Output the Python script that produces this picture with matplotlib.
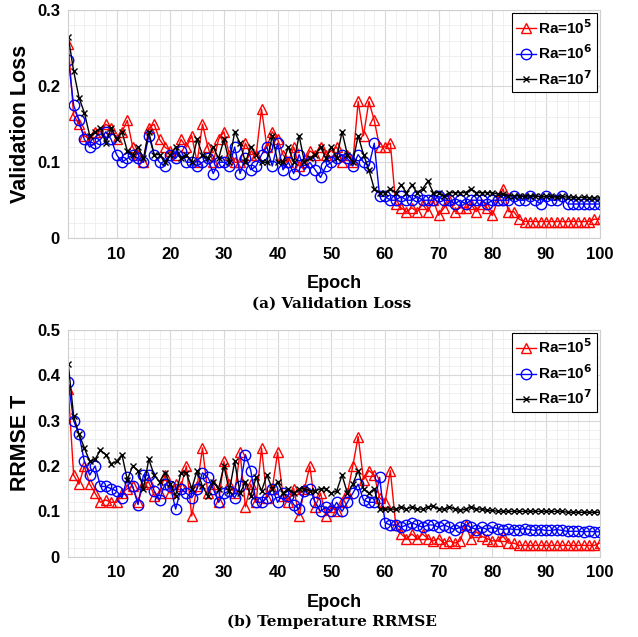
import numpy as np
import matplotlib
matplotlib.use("Agg")
import matplotlib.pyplot as plt
from matplotlib.ticker import MultipleLocator

plt.rcParams['font.family'] = ['Liberation Sans', 'DejaVu Sans']
plt.rcParams['font.weight'] = 'bold'

epochs = np.arange(1, 101)

# (a) validation loss
loss_ra5 = [0.255, 0.162, 0.15, 0.135, 0.13, 0.14, 0.14, 0.15, 0.145, 0.13,
            0.14, 0.155, 0.12, 0.11, 0.10, 0.145, 0.15, 0.13, 0.12, 0.115,
            0.11, 0.13, 0.12, 0.135, 0.10, 0.15, 0.12, 0.10, 0.13, 0.14,
            0.11, 0.10, 0.10, 0.125, 0.11, 0.11, 0.17, 0.12, 0.14, 0.13,
            0.11, 0.10, 0.12, 0.095, 0.10, 0.115, 0.11, 0.12, 0.11, 0.115,
            0.12, 0.10, 0.11, 0.10, 0.18, 0.135, 0.18, 0.155, 0.12, 0.12,
            0.125, 0.045, 0.04, 0.035, 0.04, 0.035, 0.045, 0.035, 0.05, 0.03,
            0.04, 0.05, 0.035, 0.04, 0.04, 0.045, 0.035, 0.045, 0.04, 0.03,
            0.05, 0.065, 0.035, 0.035, 0.025, 0.022, 0.022, 0.022, 0.022, 0.022,
            0.022, 0.022, 0.022, 0.022, 0.022, 0.022, 0.022, 0.022, 0.025, 0.025]
loss_ra6 = [0.235, 0.175, 0.155, 0.13, 0.12, 0.125, 0.13, 0.14, 0.13, 0.11,
            0.10, 0.105, 0.11, 0.105, 0.10, 0.135, 0.11, 0.10, 0.095, 0.11,
            0.105, 0.115, 0.10, 0.10, 0.095, 0.10, 0.105, 0.085, 0.10, 0.10,
            0.095, 0.12, 0.085, 0.105, 0.09, 0.095, 0.11, 0.12, 0.095, 0.125,
            0.09, 0.10, 0.085, 0.11, 0.09, 0.10, 0.09, 0.08, 0.095, 0.10,
            0.105, 0.11, 0.105, 0.095, 0.11, 0.10, 0.095, 0.125, 0.055, 0.055,
            0.05, 0.05, 0.055, 0.05, 0.05, 0.055, 0.05, 0.05, 0.05, 0.055,
            0.05, 0.05, 0.045, 0.05, 0.045, 0.05, 0.05, 0.05, 0.045, 0.05,
            0.05, 0.05, 0.05, 0.055, 0.05, 0.05, 0.055, 0.05, 0.045, 0.055,
            0.05, 0.05, 0.055, 0.045, 0.045, 0.045, 0.045, 0.045, 0.045, 0.045]
loss_ra7 = [0.265, 0.22, 0.185, 0.165, 0.135, 0.14, 0.145, 0.125, 0.145, 0.13,
            0.14, 0.115, 0.11, 0.12, 0.105, 0.14, 0.11, 0.11, 0.10, 0.11,
            0.12, 0.105, 0.11, 0.10, 0.13, 0.11, 0.105, 0.12, 0.105, 0.13,
            0.10, 0.14, 0.125, 0.10, 0.12, 0.11, 0.10, 0.10, 0.135, 0.10,
            0.10, 0.12, 0.10, 0.135, 0.10, 0.105, 0.11, 0.12, 0.105, 0.12,
            0.105, 0.14, 0.11, 0.10, 0.135, 0.11, 0.09, 0.065, 0.06, 0.06,
            0.065, 0.06, 0.07, 0.06, 0.07, 0.06, 0.065, 0.075, 0.06, 0.06,
            0.055, 0.06, 0.06, 0.06, 0.06, 0.065, 0.06, 0.06, 0.06, 0.06,
            0.058, 0.058, 0.056, 0.056, 0.056, 0.055, 0.056, 0.055, 0.055, 0.055,
            0.055, 0.054, 0.055, 0.054, 0.054, 0.053, 0.054, 0.053, 0.053, 0.053]

# (b) temperature RRMSE
rrmse_ra5 = [0.37, 0.18, 0.16, 0.20, 0.16, 0.14, 0.12, 0.125, 0.12, 0.12,
             0.14, 0.15, 0.155, 0.12, 0.16, 0.165, 0.135, 0.14, 0.18, 0.14,
             0.16, 0.155, 0.20, 0.09, 0.155, 0.24, 0.14, 0.16, 0.12, 0.21,
             0.16, 0.14, 0.23, 0.11, 0.16, 0.12, 0.24, 0.13, 0.15, 0.23,
             0.135, 0.12, 0.15, 0.09, 0.15, 0.20, 0.11, 0.14, 0.09, 0.11,
             0.10, 0.12, 0.14, 0.20, 0.265, 0.17, 0.19, 0.18, 0.13, 0.12,
             0.19, 0.07, 0.05, 0.04, 0.05, 0.04, 0.05, 0.04, 0.035, 0.04,
             0.03, 0.035, 0.03, 0.035, 0.07, 0.04, 0.055, 0.045, 0.04, 0.035,
             0.035, 0.045, 0.03, 0.03, 0.025, 0.025, 0.025, 0.025, 0.025, 0.025,
             0.025, 0.025, 0.025, 0.025, 0.025, 0.025, 0.025, 0.025, 0.025, 0.03]
rrmse_ra6 = [0.385, 0.30, 0.27, 0.21, 0.18, 0.20, 0.155, 0.155, 0.15, 0.145,
             0.13, 0.175, 0.155, 0.115, 0.18, 0.18, 0.145, 0.125, 0.16, 0.155,
             0.105, 0.15, 0.14, 0.13, 0.15, 0.185, 0.175, 0.15, 0.12, 0.14,
             0.145, 0.13, 0.155, 0.225, 0.19, 0.12, 0.12, 0.13, 0.15, 0.12,
             0.14, 0.135, 0.115, 0.105, 0.145, 0.15, 0.12, 0.10, 0.11, 0.10,
             0.12, 0.10, 0.12, 0.14, 0.16, 0.125, 0.12, 0.12, 0.175, 0.075,
             0.07, 0.07, 0.065, 0.07, 0.075, 0.07, 0.065, 0.07, 0.07, 0.065,
             0.07, 0.065, 0.06, 0.065, 0.07, 0.065, 0.06, 0.065, 0.06, 0.065,
             0.062, 0.06, 0.062, 0.06, 0.06, 0.062, 0.06, 0.058, 0.06, 0.058,
             0.058, 0.06, 0.058, 0.056, 0.056, 0.056, 0.055, 0.056, 0.055, 0.055]
rrmse_ra7 = [0.425, 0.31, 0.27, 0.24, 0.21, 0.215, 0.235, 0.225, 0.205, 0.21,
             0.225, 0.17, 0.20, 0.19, 0.15, 0.215, 0.18, 0.165, 0.185, 0.16,
             0.135, 0.185, 0.185, 0.15, 0.19, 0.155, 0.135, 0.165, 0.15, 0.20,
             0.145, 0.21, 0.14, 0.165, 0.135, 0.175, 0.145, 0.18, 0.15, 0.165,
             0.14, 0.15, 0.14, 0.15, 0.15, 0.145, 0.145, 0.15, 0.15, 0.14,
             0.145, 0.18, 0.14, 0.16, 0.19, 0.15, 0.14, 0.15, 0.105, 0.105,
             0.105, 0.105, 0.11, 0.105, 0.11, 0.105, 0.105, 0.11, 0.112, 0.105,
             0.105, 0.11, 0.105, 0.102, 0.105, 0.11, 0.105, 0.105, 0.102, 0.102,
             0.10, 0.10, 0.10, 0.10, 0.10, 0.10, 0.10, 0.10, 0.10, 0.10,
             0.10, 0.10, 0.10, 0.098, 0.098, 0.098, 0.098, 0.098, 0.098, 0.098]

labels = [r'Ra=10$^{\mathbf{5}}$', r'Ra=10$^{\mathbf{6}}$', r'Ra=10$^{\mathbf{7}}$']

fig = plt.figure(figsize=(6.38, 6.37), dpi=100)
ax1 = fig.add_axes([0.107, 0.626, 0.833, 0.358])
ax2 = fig.add_axes([0.107, 0.126, 0.833, 0.356])


def draw(ax, series, ymax, ylabel):
    styles = [('r', '^', 7.5), ('b', 'o', 7.5), ('k', 'x', 5)]
    for vals, (c, m, ms), lab in zip(series, styles, labels):
        ax.plot(epochs, vals, color=c, marker=m, markersize=ms,
                markerfacecolor='none', markeredgewidth=1.0, linewidth=1.0, label=lab)
    ax.set_xlim(1, 100)
    ax.set_ylim(0, ymax)
    ax.set_xticks(range(10, 101, 10))
    ax.set_yticks(np.arange(0, ymax + 0.01, 0.1))
    ax.set_yticklabels(['0'] + ['%.1f' % v for v in np.arange(0.1, ymax + 0.01, 0.1)])
    ax.xaxis.set_minor_locator(MultipleLocator(2))
    ax.yaxis.set_minor_locator(MultipleLocator(0.02))
    ax.grid(True, which='major', color='#d9d9d9', linewidth=0.8)
    ax.grid(True, which='minor', color='#eeeeee', linewidth=0.6)
    ax.set_axisbelow(True)
    ax.tick_params(which='both', length=0, labelsize=12, pad=6)
    for sp in ax.spines.values():
        sp.set_color('#cfcfcf')
    ax.set_xlabel('Epoch', fontsize=13, fontweight='bold', labelpad=10)
    ax.set_ylabel(ylabel, fontsize=15.5, fontweight='bold', labelpad=4)
    leg = ax.legend(loc='upper right', fontsize=11, handlelength=1.3, handletextpad=0.1,
                    borderpad=0.3, labelspacing=0.45, fancybox=False, framealpha=1,
                    borderaxespad=0.2)
    leg.get_frame().set_edgecolor('black')
    leg.get_frame().set_linewidth(0.8)


draw(ax1, [loss_ra5, loss_ra6, loss_ra7], 0.3, 'Validation Loss')
draw(ax2, [rrmse_ra5, rrmse_ra6, rrmse_ra7], 0.5, 'RRMSE T')

fig.text(0.52, 0.524, '(a) Validation Loss', ha='center', va='center',
         fontsize=11, fontweight='bold', family=['DejaVu Serif'])
fig.text(0.52, 0.024, '(b) Temperature RRMSE', ha='center', va='center',
         fontsize=11, fontweight='bold', family=['DejaVu Serif'])

fig.savefig('out.png', dpi=100)
